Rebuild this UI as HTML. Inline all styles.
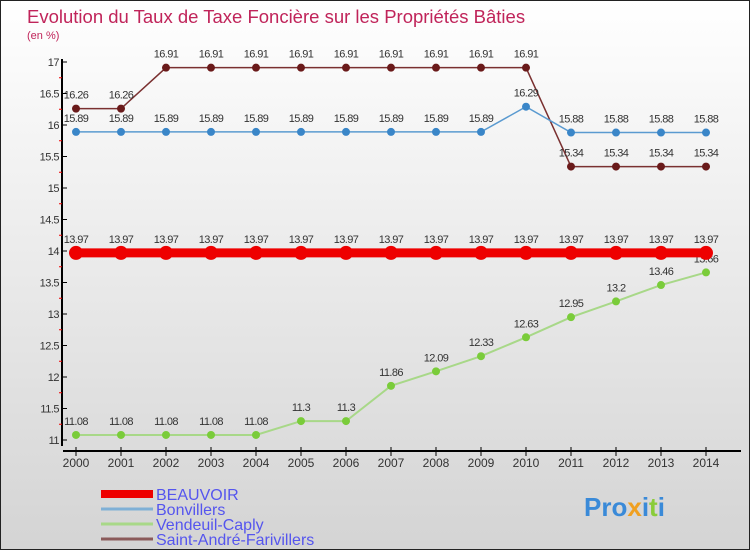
<!DOCTYPE html>
<html><head><meta charset="utf-8"><style>
body{margin:0}
#c{width:750px;height:550px;position:relative;box-sizing:border-box;border:1px solid #222;background:linear-gradient(#fff,#d4d4d4);font-family:"Liberation Sans",sans-serif;overflow:hidden}
svg{position:absolute;left:0;top:0}
</style></head><body>
<div id="c">
<svg id="s" width="750" height="550">
<text x="26" y="22" font-size="18.5" fill="#c0245a">Evolution du Taux de Taxe Foncière sur les Propriétés Bâties</text>
<text x="26" y="38" font-size="11" fill="#c0245a">(en %)</text>
</svg>
</div>
<script>
const years=[2000,2001,2002,2003,2004,2005,2006,2007,2008,2009,2010,2011,2012,2013,2014];
const yTicks=[11,11.5,12,12.5,13,13.5,14,14.5,15,15.5,16,16.5,17];
const beauvoir=[13.97,13.97,13.97,13.97,13.97,13.97,13.97,13.97,13.97,13.97,13.97,13.97,13.97,13.97,13.97];
const bonvillers=[15.89,15.89,15.89,15.89,15.89,15.89,15.89,15.89,15.89,15.89,16.29,15.88,15.88,15.88,15.88];
const vendeuil=[11.08,11.08,11.08,11.08,11.08,11.3,11.3,11.86,12.09,12.33,12.63,12.95,13.2,13.46,13.66];
const saintandre=[16.26,16.26,16.91,16.91,16.91,16.91,16.91,16.91,16.91,16.91,16.91,15.34,15.34,15.34,15.34];
const names=["BEAUVOIR","Bonvillers","Vendeuil-Caply","Saint-André-Farivillers"];
const NS="http://www.w3.org/2000/svg",s=document.getElementById('s');
const X=i=>75+i*45, Y=v=>439-(v-11)*63;
function el(t,a,p){const e=document.createElementNS(NS,t);for(const k in a)e.setAttribute(k,a[k]);(p||s).appendChild(e);return e;}
let ax=el('line',{x1:61,y1:58,x2:61,y2:445,stroke:'#000','stroke-width':2});


yTicks.forEach((v,i)=>{
 el('line',{x1:61,x2:66,y1:Y(v),y2:Y(v),stroke:'#000'});
 if(i<yTicks.length-1)el('line',{x1:58,x2:61,y1:Y(v+0.25),y2:Y(v+0.25),stroke:'#e00'});
 let t=el('text',{x:58,y:Y(v)+4,'font-size':11,'text-anchor':'end',fill:'#333','letter-spacing':'-0.5'});t.textContent=v;
 
 
});
let xa=el('line',{x1:62,y1:450,x2:740,y2:450,stroke:'#000','stroke-width':2});


years.forEach((y,i)=>{
 el('line',{x1:X(i),x2:X(i),y1:446,y2:455,stroke:'#000'});
 let t=el('text',{x:X(i),y:466,'font-size':12,'text-anchor':'middle',fill:'#333'});t.textContent=y;
 
 
});
function series(d,col,w,r,fill,name){
 const g=el('g',{});
 
 
 el('polyline',{points:d.map((v,i)=>X(i)+','+Y(v)).join(' '),fill:'none',stroke:col,'stroke-width':w},g);
 d.forEach((v,i)=>{
  const c=el('circle',{cx:X(i),cy:Y(v),r:r,fill:fill},g);
  
  
  const t=el('text',{x:X(i),y:Y(v)-10,'font-size':11,'text-anchor':'middle',fill:'#333','letter-spacing':'-0.6'},g);t.textContent=v;
  
  
 });
}
series(saintandre,'#7a3030',1.5,4,'#6a1a1a','saint-andre');
series(bonvillers,'#5a9ad0',1.5,4,'#3a86c8','bonvillers');
series(vendeuil,'#a8d888',2,4,'#7acc3a','vendeuil');
series(beauvoir,'#ee0000',9,7,'#ee0000','beauvoir');
const lc=['#ee0000','#7fb0d6','#a8d888','#8a5a5a'],lw=[8,3,3,3];
names.forEach((n,i)=>{
 const y=493+i*15;
 const l=el('line',{x1:100,x2:152,y1:y,y2:y,stroke:lc[i],'stroke-width':lw[i]});
 
 
 const t=el('text',{x:155,y:y+6,'font-size':16,fill:'#5555ee'});t.textContent=n;
 
 
});
const lg=el('text',{x:583,y:515,'font-size':26,'font-weight':'bold',fill:'#3a8ad8'});
lg.innerHTML='Pro<tspan fill="#f0a020">x</tspan>i<tspan fill="#8acc3a">t</tspan>i';


</script>
</body></html>
